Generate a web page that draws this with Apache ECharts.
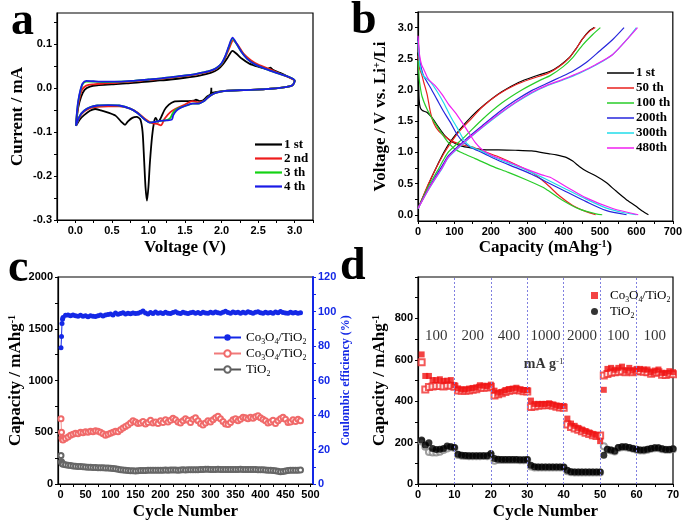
<!DOCTYPE html>
<html>
<head>
<meta charset="utf-8">
<script src="https://cdn.jsdelivr.net/npm/echarts@6.0.0/dist/echarts.min.js"></script>
<style>
  html, body { margin: 0; padding: 0; background: #fff; }
  #chart { width: 685px; height: 526px; }
</style>
</head>
<body>
<div id="chart"></div>
<script>
// ---------- panel a: CV curves, [voltage, current] ----------
const cv1st = [[0.01,-0.086],[0.02,-0.07],[0.04,-0.045],[0.08,-0.02],[0.13,-0.004],[0.2,0.003],[0.3,0.006],[0.5,0.008],[0.7,0.01],[0.9,0.013],[1.1,0.016],[1.3,0.019],[1.5,0.023],[1.7,0.028],[1.85,0.034],[1.95,0.042],[2.02,0.054],[2.08,0.068],[2.15,0.084],[2.2,0.078],[2.28,0.066],[2.38,0.055],[2.5,0.048],[2.62,0.043],[2.67,0.046],[2.7,0.041],[2.8,0.034],[2.9,0.026],[3.0,0.016],[2.97,0.006],[2.85,0.001],[2.6,-0.003],[2.3,-0.005],[2.05,-0.007],[1.9,-0.01],[1.86,-0.012],[1.86,0.0],[1.85,-0.014],[1.8,-0.02],[1.75,-0.028],[1.7,-0.03],[1.65,-0.027],[1.62,-0.029],[1.55,-0.03],[1.45,-0.03],[1.35,-0.031],[1.28,-0.038],[1.22,-0.05],[1.17,-0.068],[1.13,-0.077],[1.1,-0.068],[1.08,-0.075],[1.05,-0.11],[1.02,-0.17],[1.0,-0.225],[0.98,-0.256],[0.96,-0.225],[0.94,-0.16],[0.92,-0.1],[0.89,-0.072],[0.84,-0.066],[0.78,-0.068],[0.72,-0.076],[0.68,-0.084],[0.63,-0.077],[0.55,-0.063],[0.45,-0.056],[0.35,-0.051],[0.27,-0.048],[0.2,-0.052],[0.12,-0.062],[0.06,-0.072],[0.01,-0.086]]
const cv2nd = [[0.01,-0.086],[0.02,-0.065],[0.05,-0.03],[0.09,-0.005],[0.15,0.005],[0.25,0.008],[0.4,0.01],[0.6,0.012],[0.8,0.015],[1.0,0.018],[1.2,0.021],[1.4,0.025],[1.6,0.029],[1.75,0.034],[1.85,0.038],[1.93,0.044],[2.0,0.054],[2.05,0.068],[2.1,0.088],[2.16,0.108],[2.22,0.098],[2.3,0.078],[2.4,0.063],[2.5,0.053],[2.65,0.043],[2.8,0.032],[2.92,0.024],[3.0,0.016],[2.97,0.006],[2.85,0.001],[2.6,-0.003],[2.3,-0.005],[2.05,-0.007],[1.93,-0.011],[1.85,-0.017],[1.8,-0.024],[1.75,-0.03],[1.68,-0.033],[1.6,-0.03],[1.5,-0.038],[1.4,-0.045],[1.3,-0.055],[1.22,-0.07],[1.17,-0.085],[1.12,-0.082],[1.05,-0.08],[0.95,-0.07],[0.85,-0.056],[0.75,-0.047],[0.6,-0.042],[0.45,-0.042],[0.3,-0.043],[0.2,-0.046],[0.12,-0.054],[0.06,-0.066],[0.01,-0.086]]
const cv3th = [[0.01,-0.086],[0.02,-0.062],[0.04,-0.032],[0.07,-0.007],[0.1,0.008],[0.15,0.014],[0.25,0.014],[0.4,0.013],[0.6,0.014],[0.8,0.016],[1.0,0.019],[1.2,0.022],[1.4,0.026],[1.6,0.03],[1.75,0.035],[1.85,0.039],[1.93,0.045],[2.0,0.055],[2.05,0.071],[2.1,0.093],[2.15,0.112],[2.2,0.101],[2.27,0.082],[2.35,0.066],[2.45,0.054],[2.6,0.043],[2.75,0.034],[2.9,0.026],[2.98,0.02],[3.0,0.016],[2.97,0.006],[2.85,0.001],[2.6,-0.003],[2.3,-0.005],[2.05,-0.007],[1.93,-0.011],[1.85,-0.017],[1.8,-0.024],[1.76,-0.03],[1.7,-0.035],[1.6,-0.036],[1.52,-0.04],[1.43,-0.045],[1.37,-0.05],[1.33,-0.058],[1.3,-0.068],[1.25,-0.073],[1.15,-0.075],[1.07,-0.078],[1.02,-0.079],[0.95,-0.072],[0.85,-0.057],[0.75,-0.047],[0.6,-0.04],[0.45,-0.039],[0.3,-0.04],[0.2,-0.044],[0.12,-0.052],[0.06,-0.064],[0.01,-0.086]]
const cv4th = [[0.01,-0.086],[0.02,-0.06],[0.04,-0.03],[0.07,-0.005],[0.1,0.01],[0.15,0.016],[0.25,0.015],[0.4,0.014],[0.6,0.014],[0.8,0.016],[1.0,0.019],[1.2,0.022],[1.4,0.026],[1.6,0.03],[1.75,0.035],[1.85,0.039],[1.93,0.045],[2.0,0.056],[2.05,0.072],[2.1,0.095],[2.15,0.114],[2.2,0.102],[2.27,0.082],[2.35,0.066],[2.45,0.054],[2.6,0.043],[2.75,0.034],[2.9,0.026],[2.98,0.02],[3.0,0.016],[2.97,0.006],[2.85,0.001],[2.6,-0.003],[2.3,-0.005],[2.05,-0.007],[1.93,-0.011],[1.85,-0.017],[1.8,-0.024],[1.76,-0.03],[1.7,-0.035],[1.6,-0.036],[1.52,-0.04],[1.43,-0.046],[1.38,-0.052],[1.34,-0.062],[1.32,-0.072],[1.25,-0.074],[1.15,-0.075],[1.07,-0.078],[1.02,-0.079],[0.95,-0.072],[0.85,-0.057],[0.75,-0.047],[0.6,-0.04],[0.45,-0.039],[0.3,-0.04],[0.2,-0.044],[0.12,-0.052],[0.06,-0.064],[0.01,-0.086]]

// ---------- panel b: discharge / charge curves, [capacity, voltage] ----------
const dis1st = [[0,2.6],[1,2.2],[3,1.85],[6,1.72],[12,1.67],[25,1.64],[38,1.56],[57,1.4],[75,1.26],[93,1.17],[120,1.1],[148,1.07],[175,1.045],[221,1.04],[267,1.034],[312,1.023],[358,0.98],[380,0.96],[407,0.92],[425,0.86],[444,0.77],[462,0.7],[489,0.62],[516,0.52],[544,0.38],[571,0.25],[598,0.14],[616,0.06],[633,0.0]]
const chg1st = [[0,0.1],[15,0.3],[29,0.49],[43,0.67],[57,0.84],[70,0.99],[84,1.13],[111,1.34],[148,1.58],[184,1.77],[230,1.97],[276,2.12],[321,2.22],[363,2.3],[389,2.39],[416,2.52],[434,2.66],[452,2.82],[471,2.95],[484,3.0]]
const dis50th = [[0,2.55],[4,2.35],[10,2.25],[16,2.12],[25,1.93],[34,1.65],[43,1.47],[57,1.34],[75,1.25],[93,1.18],[111,1.14],[130,1.11],[148,1.09],[175,1.03],[221,0.93],[267,0.81],[312,0.68],[352,0.5],[389,0.3],[425,0.15],[462,0.05],[488,0.0]]
const chg50th = [[0,0.1],[15,0.31],[29,0.5],[43,0.67],[57,0.83],[70,0.97],[84,1.1],[111,1.32],[148,1.55],[175,1.72],[221,1.93],[267,2.08],[312,2.18],[358,2.27],[389,2.38],[416,2.52],[434,2.66],[452,2.82],[471,2.94],[487,3.0]]
const dis100th = [[0,2.47],[2,2.3],[4,2.14],[11,1.9],[25,1.69],[43,1.5],[61,1.34],[80,1.18],[102,1.05],[130,0.97],[157,0.9],[203,0.78],[248,0.68],[294,0.57],[340,0.45],[352,0.41],[398,0.23],[444,0.09],[489,0.015],[506,0.0]]
const chg100th = [[0,0.1],[15,0.29],[29,0.46],[43,0.6],[57,0.74],[70,0.88],[84,1.01],[130,1.26],[175,1.52],[230,1.79],[285,2.0],[340,2.17],[363,2.23],[398,2.37],[425,2.52],[452,2.72],[480,2.89],[501,3.0]]
const dis200th = [[0,2.84],[4,2.52],[9,2.35],[16,2.22],[34,2.04],[52,1.85],[70,1.66],[89,1.48],[107,1.29],[125,1.16],[148,1.07],[175,1.0],[221,0.87],[267,0.76],[312,0.65],[352,0.53],[407,0.37],[462,0.21],[516,0.07],[573,0.0]]
const chg200th = [[0,0.1],[15,0.27],[29,0.42],[47,0.6],[66,0.78],[84,0.95],[130,1.2],[175,1.42],[221,1.64],[267,1.83],[312,1.99],[352,2.1],[389,2.2],[425,2.3],[462,2.44],[498,2.62],[535,2.81],[566,3.0]]
const dis300th = [[0,2.79],[4,2.45],[9,2.3],[16,2.22],[34,2.13],[52,1.98],[70,1.8],[89,1.58],[107,1.4],[125,1.21],[143,1.1],[175,1.02],[221,0.89],[267,0.79],[312,0.68],[352,0.57],[407,0.41],[462,0.25],[516,0.11],[560,0.04],[600,0.0]]
const chg300th = [[0,0.1],[15,0.26],[29,0.4],[47,0.57],[66,0.74],[84,0.92],[130,1.17],[175,1.39],[221,1.6],[267,1.79],[312,1.95],[352,2.06],[398,2.16],[444,2.27],[489,2.4],[535,2.57],[571,2.79],[600,3.0]]
const dis480th = [[0,2.87],[4,2.57],[10,2.4],[16,2.33],[29,2.17],[47,2.07],[66,1.93],[84,1.77],[102,1.64],[121,1.48],[139,1.32],[157,1.16],[175,1.05],[203,0.95],[248,0.85],[294,0.74],[340,0.64],[363,0.6],[407,0.45],[462,0.27],[535,0.1],[605,0.0]]
const chg480th = [[0,0.1],[15,0.26],[29,0.41],[47,0.58],[66,0.75],[84,0.93],[130,1.18],[175,1.4],[221,1.61],[267,1.8],[312,1.96],[352,2.07],[398,2.17],[444,2.28],[489,2.41],[535,2.57],[571,2.79],[603,3.0]]

// ---------- panel c: cycling, sampled every 5 cycles after the first four ----------
const cCycles = [1, 2, 3, 4]
for (let n = 5; n <= 480; n += 5) cCycles.push(n)
const cEfficiency = [79, 85.5, 93, 95.5,
  96.5, 97.8, 98.0, 97.6, 97.9, 97.5, 97.3, 97.8, 97.2, 97.5,
  97.0, 97.6, 97.3, 97.1, 97.6, 97.9, 97.4, 98.0, 98.3, 98.6,
  98.0, 99.1, 98.4, 98.9, 99.3, 98.5, 99.0, 98.7, 99.2, 98.8,
  99.0, 99.6, 100.3, 99.1, 98.6, 99.4, 98.8, 99.7, 99.0, 99.3,
  98.9, 99.5, 99.0, 98.8, 99.4, 99.8, 99.1, 98.9, 99.5, 99.2,
  98.8, 99.3, 99.6, 99.0, 99.4, 98.9, 99.6, 99.2, 99.0, 99.5,
  99.1, 99.7, 99.3, 99.0, 99.6, 100.2, 99.4, 99.0, 99.7, 99.3,
  99.5, 99.0, 99.6, 99.2, 99.8, 99.4, 99.0, 99.5, 99.8, 99.3,
  99.0, 99.6, 99.2, 99.4, 99.0, 99.7, 99.3, 100.0, 99.4, 99.1,
  99.0, 99.6, 99.2, 99.4, 99.0, 99.3]
const cCapComposite = [630, 500, 445, 430,
  425, 440, 455, 470, 480, 490, 485, 500, 495, 505,
  500, 510, 505, 515, 510, 500, 485, 470, 480, 490,
  500, 510, 505, 525, 540, 555, 570, 590, 610, 600,
  585, 590, 605, 580, 595, 615, 590, 600, 585, 610,
  595, 620, 600, 615, 635, 620, 600, 590, 610, 630,
  615, 595, 625, 640, 610, 585, 570, 590, 610, 600,
  620, 640, 655, 630, 605, 580, 575, 595, 620, 630,
  610, 625, 645, 640, 630, 645, 635, 650, 660, 640,
  625, 610, 590, 600, 615, 585, 610, 630, 645, 625,
  595, 600, 620, 605, 625, 610]
const cCapTiO2 = [275, 215, 200, 195,
  190, 185, 180, 178, 175, 172, 170, 168, 166, 165,
  163, 162, 160, 160, 158, 157, 156, 155, 154, 152,
  150, 148, 142, 138, 135, 132, 130, 128, 127, 126,
  128, 130, 130, 131, 132, 132, 133, 133, 134, 133,
  134, 135, 134, 135, 136, 135, 134, 136, 137, 136,
  137, 138, 138, 137, 138, 140, 141, 142, 143, 141,
  140, 141, 142, 140, 139, 140, 141, 140, 139, 140,
  141, 142, 140, 139, 140, 141, 140, 139, 138, 138,
  137, 136, 134, 132, 130, 128, 124, 118, 120, 126,
  130, 132, 133, 134, 134, 135]

// ---------- panel d: rate capability, cycles 1..70 ----------
const dCycles = []
for (let n = 1; n <= 70; n++) dCycles.push(n)
const dCoDis = [626, 522, 522, 502, 502, 506, 498, 499, 502, 478,
  462, 457, 457, 461, 464, 467, 477, 475, 473, 480,
  451, 441, 445, 454, 459, 461, 465, 457, 454, 454,
  403, 387, 387, 387, 387, 390, 384, 379, 377, 377,
  316, 292, 281, 271, 263, 256, 249, 242, 236, 207,
  455, 556, 561, 552, 561, 567, 548, 561, 548, 556,
  556, 553, 553, 540, 548, 553, 537, 537, 545, 540]
const dCoChg = [588, 457, 468, 471, 473, 473, 471, 476, 475, 470,
  452, 450, 450, 452, 455, 458, 465, 465, 466, 470,
  428, 433, 438, 445, 450, 453, 455, 452, 448, 447,
  372, 375, 378, 380, 380, 382, 378, 373, 370, 368,
  287, 275, 268, 262, 255, 248, 242, 236, 232, 234,
  524, 532, 538, 540, 542, 545, 540, 545, 540, 545,
  545, 542, 540, 533, 538, 540, 528, 526, 532, 530]
const dTiDis = [212, 188, 199, 172, 167, 168, 172, 183, 180, 176,
  144, 139, 138, 137, 136, 136, 136, 137, 136, 147,
  123, 119, 118, 118, 118, 118, 118, 117, 117, 118,
  91, 83, 82, 82, 82, 82, 82, 82, 82, 82,
  67, 59, 58, 58, 58, 58, 58, 58, 58, 58,
  139, 168, 164, 159, 176, 180, 180, 176, 172, 168,
  164, 164, 168, 172, 175, 175, 170, 167, 167, 170]
const dTiChg = [205, 180, 155, 152, 152, 156, 164, 172, 178, 174,
  140, 136, 135, 134, 134, 134, 134, 135, 134, 140,
  112, 116, 116, 116, 116, 116, 116, 115, 115, 116,
  85, 80, 80, 80, 80, 80, 80, 80, 80, 80,
  62, 57, 56, 56, 56, 56, 56, 56, 56, 56,
  182, 166, 162, 157, 174, 178, 178, 174, 170, 166,
  162, 162, 166, 170, 173, 173, 168, 165, 165, 168]
const rateBounds = [10, 20, 30, 40, 50, 60]
const rateX = [5, 15, 25, 35, 45, 55, 65]
const rateText = ['100', '200', '400', '1000', '2000', '100', '100']

// ---------- styling ----------
const SANS = 'Liberation Sans'
const SERIF = 'Liberation Serif'
const BLUE = '#1428e6'

const steps = (from, to, step) => {
  const out = []
  for (let i = 0; ; i++) {
    const v = from + i * step
    if (v > to + 1e-9) break
    out.push(+v.toFixed(6))
  }
  return out
}

const nameStyle = (color, size) => ({
  fontFamily: SERIF, fontWeight: 'bold', fontSize: size || 17, color: color || '#000',
  rich: {
    t: { fontFamily: SERIF, fontWeight: 'bold', fontSize: size || 17, color: color || '#000' },
    sup: { fontFamily: SERIF, fontWeight: 'bold', fontSize: 10, color: color || '#000', verticalAlign: 'top', lineHeight: 12 },
  },
})

// one value axis with custom major labels and tick marks
const makeAxis = (o) => ({
  type: 'value',
  gridIndex: o.grid,
  position: o.position,
  min: o.min,
  max: o.max,
  name: o.name,
  nameLocation: 'middle',
  nameGap: o.gap,
  nameRotate: o.rotate,
  nameTextStyle: nameStyle(o.color, o.nameSize),
  axisLine: { show: true, onZero: false, lineStyle: { color: o.color || '#000', width: o.lineWidth || 1.2 } },
  axisTick: { show: true, length: 3, customValues: o.ticks, lineStyle: { color: o.color || '#000', width: 1 } },
  axisLabel: {
    customValues: o.labels,
    formatter: o.fmt || (v => String(v)),
    fontFamily: SANS, fontWeight: 'bold', fontSize: 11, color: o.color || '#000', margin: 5,
  },
  splitLine: { show: false },
})

const fix1 = v => v.toFixed(1)

const xAxes = [
  makeAxis({ grid: 0, min: -0.25, max: 3.25, labels: steps(0, 3, 0.5), ticks: steps(-0.25, 3.25, 0.25), fmt: fix1, name: 'Voltage (V)', gap: 19 }),
  makeAxis({ grid: 1, min: 0, max: 700, labels: steps(0, 700, 100), ticks: steps(0, 700, 50), name: '{t|Capacity (mAhg}{sup|-1}{t|)}', gap: 18 }),
  makeAxis({ grid: 2, min: -5, max: 505, labels: steps(0, 500, 50), ticks: steps(0, 500, 25), name: 'Cycle Number', gap: 19 }),
  makeAxis({ grid: 3, min: 0, max: 70, labels: steps(0, 70, 10), ticks: steps(0, 70, 5), name: 'Cycle Number', gap: 19 }),
]
const yAxes = [
  makeAxis({ grid: 0, min: -0.3, max: 0.17, labels: steps(-0.3, 0.1, 0.1), ticks: steps(-0.3, 0.15, 0.05), fmt: fix1, name: 'Current / mA', gap: 31 }),
  makeAxis({ grid: 1, min: -0.1, max: 3.25, labels: steps(0, 3, 0.5), ticks: steps(0, 3.25, 0.25), fmt: fix1, name: '{t|Voltage / V vs. Li}{sup|+}{t|/Li}', gap: 29 }),
  makeAxis({ grid: 2, min: 0, max: 2000, labels: steps(0, 2000, 500), ticks: steps(0, 2000, 250), name: '{t|Capacity / mAhg}{sup|-1}', gap: 34 }),
  makeAxis({ grid: 2, position: 'right', min: 0, max: 120, labels: steps(0, 120, 20), ticks: steps(0, 120, 10), color: BLUE, lineWidth: 2, name: 'Coulombic efficiency (%)', nameSize: 12, gap: 23, rotate: 90 }),
  makeAxis({ grid: 3, min: 0, max: 1000, labels: steps(0, 800, 200), ticks: steps(0, 1000, 100), name: '{t|Capacity / mAhg}{sup|-1}', gap: 30 }),
]

const lineSeries = (name, data, color, ax, width) => ({
  type: 'line', name, data, xAxisIndex: ax, yAxisIndex: ax,
  symbol: 'none', smooth: 0.25, clip: true,
  lineStyle: { color, width }, itemStyle: { color },
})

const cvSeries = [
  lineSeries('a-1 st', cv1st, '#000000', 0, 1.8),
  lineSeries('a-2 nd', cv2nd, '#ee1c1c', 0, 1.8),
  lineSeries('a-3 th', cv3th, '#14d214', 0, 1.8),
  lineSeries('a-4 th', cv4th, '#1a1ae6', 0, 1.8),
]

const cycleColors = { '1 st': '#000000', '50 th': '#e8201e', '100 th': '#28cc28', '200th': '#2626dc', '300th': '#20dcea', '480th': '#f020f0' }
const gcdData = [
  ['1 st', dis1st, chg1st], ['50 th', dis50th, chg50th], ['100 th', dis100th, chg100th],
  ['200th', dis200th, chg200th], ['300th', dis300th, chg300th], ['480th', dis480th, chg480th],
]
const gcdSeries = []
gcdData.forEach(([label, dis, chg]) => {
  gcdSeries.push(lineSeries('b-' + label, dis, cycleColors[label], 1, 1.2))
  gcdSeries.push(lineSeries('b-' + label, chg, cycleColors[label], 1, 1.2))
})

const pair = (xs, ys) => xs.map((x, i) => [x, ys[i]])

const cycSeries = [
  { type: 'line', name: 'c-tio2', xAxisIndex: 2, yAxisIndex: 2, data: pair(cCycles, cCapTiO2),
    symbol: 'emptyCircle', symbolSize: 5, lineStyle: { color: '#555', width: 0.8 }, itemStyle: { color: '#666', borderWidth: 1 } },
  { type: 'line', name: 'c-cap', xAxisIndex: 2, yAxisIndex: 2, data: pair(cCycles, cCapComposite),
    symbol: 'emptyCircle', symbolSize: 5, lineStyle: { color: '#f07a7a', width: 0.8 }, itemStyle: { color: '#f06a6a', borderWidth: 1 } },
  { type: 'line', name: 'c-ce', xAxisIndex: 2, yAxisIndex: 3, data: pair(cCycles, cEfficiency),
    symbol: 'circle', symbolSize: 5, lineStyle: { color: BLUE, width: 1 }, itemStyle: { color: BLUE } },
]

const rateSeries = [
  { type: 'scatter', name: 'd-ti-open', xAxisIndex: 3, yAxisIndex: 4, data: pair(dCycles, dTiChg),
    symbol: 'emptyCircle', symbolSize: 6, itemStyle: { color: '#888', borderColor: '#888', borderWidth: 1 } },
  { type: 'scatter', name: 'd-co-open', xAxisIndex: 3, yAxisIndex: 4, data: pair(dCycles, dCoChg),
    symbol: 'emptyRect', symbolSize: 6, itemStyle: { color: '#f03030', borderColor: '#f03030', borderWidth: 1 } },
  { type: 'scatter', name: 'd-co', xAxisIndex: 3, yAxisIndex: 4, data: pair(dCycles, dCoDis),
    symbol: 'rect', symbolSize: 6, itemStyle: { color: '#f01414' } },
  { type: 'scatter', name: 'd-ti', xAxisIndex: 3, yAxisIndex: 4, data: pair(dCycles, dTiDis),
    symbol: 'circle', symbolSize: 7, itemStyle: { color: '#000' } },
  { type: 'scatter', name: 'd-rates', xAxisIndex: 3, yAxisIndex: 4, silent: true,
    data: rateX.map(x => [x, 715]), symbolSize: 0,
    label: { show: true, position: 'inside', formatter: p => rateText[p.dataIndex], fontFamily: SERIF, fontSize: 15, color: '#000' },
    markLine: { silent: true, symbol: 'none', label: { show: false },
      lineStyle: { color: '#8080e0', type: [2, 2], width: 1 },
      data: rateBounds.map(x => ({ xAxis: x })) } },
  { type: 'scatter', name: 'd-unit', xAxisIndex: 3, yAxisIndex: 4, silent: true,
    data: [[34.5, 578]], symbolSize: 0,
    label: { show: true, position: 'inside', formatter: '{t|mA g}{sup|-1}',
      rich: { t: { fontFamily: SERIF, fontWeight: 'bold', fontSize: 14, color: '#000' },
              sup: { fontFamily: SERIF, fontSize: 9, color: '#000', verticalAlign: 'top', lineHeight: 10 } } } },
]

const chemRich = (size) => ({
  t: { fontFamily: SERIF, fontSize: size, color: '#000', lineHeight: 17 },
  s: { fontFamily: SERIF, fontSize: size * 0.6, color: '#000', verticalAlign: 'bottom', lineHeight: 17 },
})
const chemName = { 'c-ce': '{t|Co}{s|3}{t|O}{s|4}{t|/TiO}{s|2}', 'c-cap': '{t|Co}{s|3}{t|O}{s|4}{t|/TiO}{s|2}', 'c-tio2': '{t|TiO}{s|2}',
  'd-co': '{t|Co}{s|3}{t|O}{s|4}{t|/TiO}{s|2}', 'd-ti': '{t|TiO}{s|2}' }

const boldLegendText = { fontFamily: SERIF, fontWeight: 'bold', fontSize: 13, color: '#000' }

const letter = (ch, x, y) => ({
  type: 'text', x, y, silent: true,
  style: { text: ch, font: 'bold 46px "Liberation Serif"', fill: '#000', align: 'left', verticalAlign: 'middle' },
})

const gridBox = (left, top, width, height) => ({ left, top, width, height, show: true, borderColor: '#000', borderWidth: 1.2, containLabel: false })

const chart = echarts.init(document.getElementById('chart'))
chart.setOption({
  animation: false,
  backgroundColor: '#fff',
  grid: [
    gridBox(57, 13, 256, 207),
    gridBox(418, 12, 255, 209),
    gridBox(58, 277, 255, 207),
    gridBox(418, 277, 255, 207),
  ],
  xAxis: xAxes,
  yAxis: yAxes,
  legend: [
    { orient: 'vertical', left: 250, top: 133, icon: 'rect', itemWidth: 27, itemHeight: 2.2, itemGap: 1,
      data: ['a-1 st', 'a-2 nd', 'a-3 th', 'a-4 th'], formatter: n => n.slice(2),
      textStyle: Object.assign({ lineHeight: 13, padding: [0, 0, 0, -3] }, boldLegendText) },
    { orient: 'vertical', left: 602, top: 61, icon: 'rect', itemWidth: 27, itemHeight: 1.5, itemGap: 1,
      data: ['b-1 st', 'b-50 th', 'b-100 th', 'b-200th', 'b-300th', 'b-480th'], formatter: n => n.slice(2),
      textStyle: Object.assign({ lineHeight: 14, padding: [0, 0, 0, -3] }, boldLegendText) },
    { orient: 'vertical', left: 208, top: 326, itemWidth: 27, itemHeight: 8, itemGap: 1,
      data: ['c-ce', 'c-cap', 'c-tio2'], formatter: n => chemName[n],
      textStyle: { fontFamily: SERIF, fontSize: 13, color: '#000', rich: chemRich(13) } },
    { orient: 'vertical', left: 586, top: 284, itemWidth: 7, itemHeight: 7, itemGap: 1,
      data: [{ name: 'd-co', icon: 'rect' }, { name: 'd-ti', icon: 'circle' }], formatter: n => chemName[n],
      textStyle: { fontFamily: SERIF, fontSize: 13, color: '#000', padding: [0, 0, 0, 7], rich: chemRich(13) } },
  ],
  graphic: [
    letter('a', 11, 22),
    letter('b', 351, 21),
    letter('c', 8, 269),
    letter('d', 340, 267),
  ],
  series: [...cvSeries, ...gcdSeries, ...cycSeries, ...rateSeries],
})
</script>
</body>
</html>
